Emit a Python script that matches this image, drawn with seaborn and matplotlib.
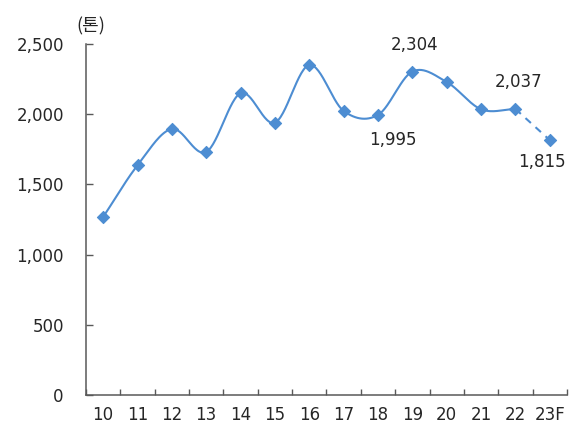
import numpy as np
import pandas as pd
import matplotlib
matplotlib.use("Agg")
import matplotlib.pyplot as plt
import seaborn as sns

# Annual volume (tonnes); last year is a forecast
years = ["10", "11", "12", "13", "14", "15", "16", "17", "18", "19", "20", "21", "22", "23F"]
volume = [1268, 1636, 1895, 1731, 2149, 1940, 2350, 2023, 1995, 2304, 2229, 2035, 2037, 1815]
# value labels: index -> (text, offset in points)
labeled = {8: ("1,995", (10.8, -18)), 9: ("2,304", (1.4, 19.4)),
           12: ("2,037", (2, 19.2)), 13: ("1,815", (-5.8, -16))}

sns.set_theme(style="white")
plt.rcParams["font.family"] = ["DejaVu Sans", "Noto Sans CJK KR"]

BLUE = "#4D8DD2"
AXC = "#595959"
TXT = "#262626"


def smooth_curve(y, steps=30):
    """Cardinal (Catmull-Rom) spline through the points, index space."""
    y = np.asarray(y, dtype=float)
    n = len(y)
    t = np.zeros(n)
    t[1:-1] = (y[2:] - y[:-2]) / 2
    t[0] = y[1] - y[0]
    t[-1] = y[-1] - y[-2]
    xs, ys = [], []
    for i in range(n - 1):
        s = np.linspace(0, 1, steps, endpoint=False)
        h00 = 2 * s**3 - 3 * s**2 + 1
        h10 = s**3 - 2 * s**2 + s
        h01 = -2 * s**3 + 3 * s**2
        h11 = s**3 - s**2
        xs.append(i + s)
        ys.append(h00 * y[i] + h10 * t[i] + h01 * y[i + 1] + h11 * t[i + 1])
    xs.append(np.array([n - 1.0]))
    ys.append(np.array([y[-1]]))
    return np.concatenate(xs), np.concatenate(ys)


fig = plt.figure(figsize=(5.74, 4.30), dpi=100)
ax = fig.add_axes([0.1498, 0.0814, 0.8380, 0.8163])

idx = np.arange(len(years))
actual = volume[:-1]
cx, cy = smooth_curve(actual)
sns.lineplot(x=cx, y=cy, ax=ax, color=BLUE, lw=1.5, sort=False, estimator=None)
sns.lineplot(x=idx[-2:], y=volume[-2:], ax=ax, color=BLUE, lw=1.5,
             linestyle=(0, (3.5, 3)), sort=False, estimator=None)
sns.scatterplot(x=idx, y=volume, ax=ax, marker="D", s=38, color=BLUE,
                edgecolor=BLUE, linewidth=0.8, zorder=5)

for i, (txt, off) in labeled.items():
    ax.annotate(txt, (idx[i], volume[i]), xytext=off, textcoords="offset points",
                ha="center", va="center", fontsize=12, color=TXT)

ax.set_xlim(-0.5, len(years) - 0.5)
ax.set_ylim(0, 2500)
ax.set_yticks([0, 500, 1000, 1500, 2000, 2500])
ax.set_yticklabels(["0", "500", "1,000", "1,500", "2,000", "2,500"])
ax.set_xticks(idx)
ax.set_xticklabels(years)
ax.set_xticks(np.arange(-0.5, len(years)), minor=True)

ax.tick_params(axis="y", which="major", direction="in", length=5, width=1,
               color=AXC, pad=16, labelsize=12, labelcolor=TXT, left=True)
ax.tick_params(axis="x", which="major", length=0, pad=8, labelsize=12,
               labelcolor=TXT)
ax.tick_params(axis="x", which="minor", direction="in", length=4, width=1,
               color=AXC, bottom=True)

for side in ("top", "right"):
    ax.spines[side].set_visible(False)
for side in ("left", "bottom"):
    ax.spines[side].set_color(AXC)
    ax.spines[side].set_linewidth(1.1)
ax.set_xlabel("")
ax.set_ylabel("")
ax.grid(False)

fig.text(91 / 574, 1 - 26 / 430, "(톤)", ha="center", va="center", fontsize=13,
         color=TXT, family=["Noto Sans CJK KR", "DejaVu Sans"])

fig.savefig("out.png", dpi=100, facecolor="white")
